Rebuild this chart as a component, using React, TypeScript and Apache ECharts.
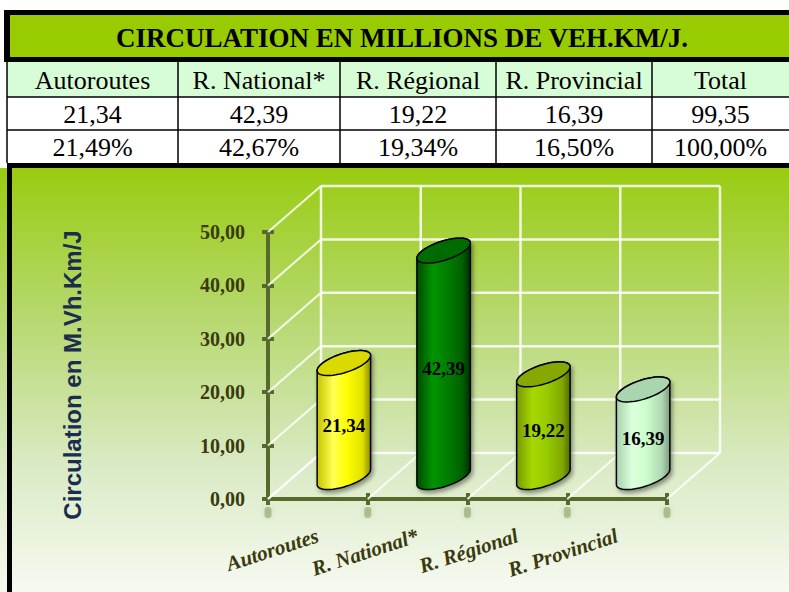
import React, { useEffect, useRef } from "react";
import * as echarts from "echarts";

// ---------- data ----------
const titleText = "CIRCULATION EN MILLIONS DE VEH.KM/J.";
const categories = ["Autoroutes", "R. National*", "R. Régional", "R. Provincial"];
const values = [21.34, 42.39, 19.22, 16.39];
const totalValue = 99.35;
const shares = [21.49, 42.67, 19.34, 16.5, 100.0];
const tableHeaders = [...categories, "Total"];
const yTickValues = [0, 10, 20, 30, 40, 50];
const yAxisTitle = "Circulation en M.Vh.Km/J";

// ---------- styles ----------
const AXIS_COLOR = "#57692C";
const LABEL_COLOR = "#3A3A0E";
const SERIF = '"Liberation Serif", "Times New Roman", serif';
const DEPTH_DX = 53;
const DEPTH_DY = -46;
const BAR_DX = 26;
const BAR_DY = -22;
const barStyles = [
  { l: "#C4C400", hi: "#FFFF55", mid: "#FFFF00", d: "#E0E000", r: "#8A8A00", top: "#DADA00" },
  { l: "#004A00", hi: "#009400", mid: "#007F00", d: "#006000", r: "#002E00", top: "#006C00" },
  { l: "#759A00", hi: "#A8D800", mid: "#99CC00", d: "#80A800", r: "#566E00", top: "#86A800" },
  { l: "#A5D3AC", hi: "#DDFFDD", mid: "#CCFFCC", d: "#AFD8B2", r: "#7C9C80", top: "#A9D5B0" },
];

const fmt = (v: number) => v.toFixed(2).replace(".", ",");

// table geometry
const colEdges = [7, 178, 340, 496, 652, 789];
const rowEdges = [62, 97, 130, 163];

function buildGraphic() {
  const els: any[] = [];
  // title bar
  els.push({ type: "rect", shape: { x: 4, y: 10, width: 800, height: 52 }, style: { fill: "#000" } });
  els.push({ type: "rect", shape: { x: 10, y: 15, width: 800, height: 42 }, style: { fill: "#99CC00" } });
  els.push({
    type: "text",
    x: 402,
    y: 38,
    style: {
      text: titleText,
      align: "center",
      verticalAlign: "middle",
      fontFamily: SERIF,
      fontWeight: "bold",
      fontSize: 27,
      fill: "#000",
    },
  });
  // table rows
  els.push({
    type: "rect",
    shape: { x: colEdges[0], y: rowEdges[0], width: 789 - colEdges[0], height: rowEdges[1] - rowEdges[0] },
    style: { fill: "#D6FDD6" },
  });
  els.push({
    type: "rect",
    shape: { x: colEdges[0], y: rowEdges[1], width: 789 - colEdges[0], height: rowEdges[3] - rowEdges[1] },
    style: { fill: "#FFFFFF" },
  });
  const rowTexts = [
    tableHeaders,
    [...values.map(fmt), fmt(totalValue)],
    shares.map((s) => fmt(s) + "%"),
  ];
  rowTexts.forEach((row, r) => {
    row.forEach((t, c) => {
      els.push({
        type: "text",
        x: (colEdges[c] + colEdges[c + 1]) / 2,
        y: (rowEdges[r] + rowEdges[r + 1]) / 2 + 1,
        style: {
          text: t,
          align: "center",
          verticalAlign: "middle",
          fontFamily: SERIF,
          fontSize: 26,
          fill: "#000",
        },
      });
    });
  });
  [rowEdges[1], rowEdges[2]].forEach((y) => {
    els.push({ type: "line", shape: { x1: colEdges[0], y1: y, x2: 789, y2: y }, style: { stroke: "#000", lineWidth: 1.5 } });
  });
  colEdges.slice(0, 5).forEach((x) => {
    els.push({ type: "line", shape: { x1: x, y1: rowEdges[0], x2: x, y2: rowEdges[3] }, style: { stroke: "#000", lineWidth: 1.5 } });
  });
  // thick separator + left border of chart area
  els.push({ type: "rect", shape: { x: 7, y: 163, width: 782, height: 5 }, style: { fill: "#000" } });
  els.push({ type: "rect", shape: { x: 7, y: 163, width: 5, height: 429 }, style: { fill: "#000" } });
  // y axis title
  els.push({
    type: "text",
    x: 72,
    y: 375,
    rotation: Math.PI / 2,
    style: {
      text: yAxisTitle,
      align: "center",
      verticalAlign: "middle",
      fontFamily: '"Liberation Sans", Arial, sans-serif',
      fontWeight: "bold",
      fontSize: 24,
      fill: "#1B2D4F",
    },
  });
  return els;
}

function renderFrame(params: any, api: any) {
  const bw = api.size([1, 0])[0];
  const x0 = api.coord([0, 0])[0] - bw / 2;
  const y0 = api.coord([0, yTickValues[0]])[1];
  const yTop = api.coord([0, yTickValues[yTickValues.length - 1]])[1];
  const n = categories.length;
  const children: any[] = [];
  const stroke = "rgba(255,255,255,0.85)";
  yTickValues.forEach((v) => {
    const y = api.coord([0, v])[1];
    children.push({
      type: "line",
      shape: { x1: x0, y1: y, x2: x0 + DEPTH_DX, y2: y + DEPTH_DY },
      style: { stroke, lineWidth: 2 },
    });
    children.push({
      type: "line",
      shape: { x1: x0 + DEPTH_DX, y1: y + DEPTH_DY, x2: x0 + n * bw + DEPTH_DX, y2: y + DEPTH_DY },
      style: { stroke, lineWidth: 2.5 },
    });
  });
  for (let i = 0; i <= n; i++) {
    const xb = x0 + i * bw;
    children.push({
      type: "line",
      shape: { x1: xb, y1: y0, x2: xb + DEPTH_DX, y2: y0 + DEPTH_DY },
      style: { stroke, lineWidth: 2 },
    });
    children.push({
      type: "line",
      shape: { x1: xb + DEPTH_DX, y1: y0 + DEPTH_DY, x2: xb + DEPTH_DX, y2: yTop + DEPTH_DY },
      style: { stroke, lineWidth: 2.5 },
    });
    // soft shadow below each axis tick
    children.push({
      type: "rect",
      shape: { x: xb - 3.5, y: y0 + 8, width: 7, height: 11, r: 3 },
      style: {
        fill: "rgba(95,120,50,0.35)",
        shadowBlur: 5,
        shadowColor: "rgba(95,120,50,0.5)",
      },
    });
  }
  return { type: "group", children };
}

function renderCylinder(params: any, api: any) {
  const i = api.value(0);
  const v = api.value(1);
  const pTop = api.coord([i, v]);
  const pBase = api.coord([i, 0]);
  const cx = pTop[0] + BAR_DX;
  const top = pTop[1] + BAR_DY;
  const base = pBase[1] + BAR_DY;
  const a = api.size([1, 0])[0] * 0.28;
  const b = 9.5;
  const phi = (18 * Math.PI) / 180;
  const cp = Math.cos(phi);
  const sp = Math.sin(phi);
  const ell = (cy: number, t: number) => [
    cx + a * Math.cos(t) * cp + b * Math.sin(t) * sp,
    cy - a * Math.cos(t) * sp + b * Math.sin(t) * cp,
  ];
  const t0 = Math.atan2(b * sp, a * cp);
  const N = 30;
  const body: number[][] = [];
  for (let k = 0; k <= N; k++) body.push(ell(base, t0 + (Math.PI * k) / N));
  for (let k = 0; k <= N; k++) body.push(ell(top, t0 + Math.PI + (Math.PI * k) / N));
  const cap: number[][] = [];
  for (let k = 0; k < 2 * N; k++) cap.push(ell(top, (Math.PI * k) / N));
  const s = barStyles[i % barStyles.length];
  return {
    type: "group",
    children: [
      {
        type: "polygon",
        shape: { points: body },
        style: {
          fill: new echarts.graphic.LinearGradient(0, 0, 1, 0, [
            { offset: 0, color: s.l },
            { offset: 0.3, color: s.hi },
            { offset: 0.55, color: s.mid },
            { offset: 0.85, color: s.d },
            { offset: 1, color: s.r },
          ]),
          stroke: "#000",
          lineWidth: 1.5,
          shadowBlur: 4,
          shadowOffsetX: 2,
          shadowOffsetY: 3,
          shadowColor: "rgba(0,0,0,0.4)",
        },
      },
      {
        type: "polygon",
        shape: { points: cap },
        style: { fill: s.top, stroke: "#000", lineWidth: 1.5 },
      },
      {
        type: "text",
        x: cx,
        y: (top + base) / 2 + 5,
        style: {
          text: fmt(v),
          align: "center",
          verticalAlign: "middle",
          fontFamily: SERIF,
          fontWeight: "bold",
          fontSize: 19,
          fill: "#000",
        },
      },
    ],
  };
}

export default function App() {
  const ref = useRef<HTMLDivElement>(null);
  useEffect(() => {
    document.body.style.margin = "0";
    if (!ref.current) return;
    const chart = echarts.init(ref.current, null, { renderer: "svg" });
    const bgStart = 168 / 592;
    const tickStyle = {
      color: AXIS_COLOR,
      width: 4,
    };
    chart.setOption({
      animation: false,
      backgroundColor: new echarts.graphic.LinearGradient(0, 0, 0, 1, [
        { offset: 0, color: "#FFFFFF" },
        { offset: bgStart, color: "#FFFFFF" },
        { offset: bgStart, color: "#99CC11" },
        { offset: bgStart + 0.25, color: "#B6D86E" },
        { offset: bgStart + 0.5, color: "#DAEAC4" },
        { offset: 1, color: "#F6FAF1" },
      ]),
      grid: { left: 268, top: 232, width: 399, height: 267, containLabel: false },
      xAxis: [
        {
          type: "category",
          data: categories,
          axisLine: { show: true, lineStyle: { color: AXIS_COLOR, width: 4 } },
          axisTick: { show: true, length: 6, lineStyle: tickStyle },
          axisLabel: {
            interval: 0,
            rotate: 18,
            margin: 36,
            fontFamily: SERIF,
            fontStyle: "italic",
            fontWeight: "bold",
            fontSize: 21,
            color: LABEL_COLOR,
          },
          splitLine: { show: false },
        },
        {
          type: "category",
          data: categories,
          position: "bottom",
          axisLine: { show: false, onZero: false },
          axisTick: { show: true, inside: true, length: 6, lineStyle: tickStyle },
          axisLabel: { show: false },
          splitLine: { show: false },
        },
      ],
      yAxis: [
        {
          type: "value",
          min: yTickValues[0],
          max: yTickValues[yTickValues.length - 1],
          interval: yTickValues[1] - yTickValues[0],
          axisLine: { show: true, lineStyle: { color: AXIS_COLOR, width: 4 } },
          axisTick: { show: true, length: 6, lineStyle: tickStyle },
          axisLabel: {
            margin: 23,
            formatter: (v: number) => fmt(v),
            fontFamily: SERIF,
            fontWeight: "bold",
            fontSize: 20,
            color: LABEL_COLOR,
          },
          splitLine: { show: false },
        },
        {
          type: "value",
          position: "left",
          min: yTickValues[0],
          max: yTickValues[yTickValues.length - 1],
          interval: yTickValues[1] - yTickValues[0],
          axisLine: { show: false },
          axisTick: { show: true, inside: true, length: 6, lineStyle: tickStyle },
          axisLabel: { show: false },
          splitLine: { show: false },
        },
      ],
      series: [
        {
          type: "custom",
          name: "frame",
          z: 1,
          silent: true,
          clip: false,
          renderItem: renderFrame,
          data: [[0, 0]],
        },
        {
          type: "custom",
          name: "Circulation",
          z: 3,
          clip: false,
          renderItem: renderCylinder,
          data: values.map((v, i) => [i, v]),
        },
      ],
      graphic: { elements: buildGraphic() },
    });
    return () => chart.dispose();
  }, []);
  return <div ref={ref} style={{ width: 789, height: 592 }} />;
}
